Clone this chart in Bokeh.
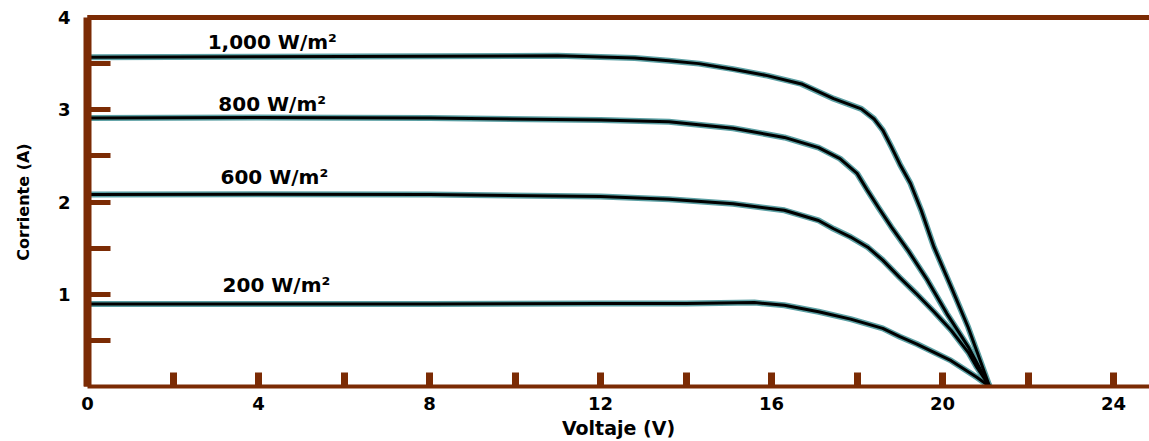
from bokeh.plotting import figure
from bokeh.models import FixedTicker, LinearAxis
from bokeh.core.properties import value
from bokeh.embed import file_html
from bokeh.resources import INLINE

# ---- data ----
v_1000 = [0, 4, 8, 11, 12.8, 13.6, 14.3, 15.1, 15.9, 16.7, 17.45, 18.1, 18.4, 18.6, 18.8, 19.0, 19.25, 19.5, 19.8, 20.2, 20.6, 21.1]
i_1000 = [3.57, 3.575, 3.58, 3.585, 3.56, 3.53, 3.50, 3.44, 3.37, 3.28, 3.12, 3.01, 2.90, 2.78, 2.60, 2.41, 2.20, 1.91, 1.51, 1.08, 0.64, 0.0]

v_800 = [0, 4, 8, 12.0, 13.6, 15.1, 16.3, 17.1, 17.6, 18.0, 18.25, 18.5, 18.8, 19.2, 19.65, 20.1, 20.6, 21.1]
i_800 = [2.91, 2.915, 2.91, 2.89, 2.87, 2.80, 2.70, 2.59, 2.47, 2.31, 2.12, 1.94, 1.73, 1.47, 1.15, 0.79, 0.43, 0.0]

v_600 = [0, 4, 8, 12.0, 13.6, 15.1, 16.3, 17.1, 17.45, 17.85, 18.25, 18.6, 19.0, 19.4, 19.8, 20.2, 20.6, 20.8, 21.1]
i_600 = [2.08, 2.085, 2.08, 2.06, 2.03, 1.98, 1.91, 1.80, 1.71, 1.62, 1.51, 1.37, 1.18, 1.00, 0.81, 0.61, 0.37, 0.21, 0.0]

v_200 = [0, 8, 12.0, 14, 15.6, 16.3, 17.1, 17.85, 18.6, 19.0, 19.4, 20.2, 20.8, 21.1]
i_200 = [0.895, 0.895, 0.90, 0.90, 0.91, 0.88, 0.81, 0.73, 0.63, 0.54, 0.46, 0.28, 0.10, 0.0]

curve_labels = ["1,000 W/m²", "800 W/m²", "600 W/m²", "200 W/m²"]
label_x = [2.81, 3.06, 3.11, 3.16]
label_y = [3.73, 3.06, 2.27, 1.095]

x_major = [0, 4, 8, 12, 16, 20, 24]
x_minor = [2, 6, 10, 14, 18, 22]
y_major = [1, 2, 3, 4]
y_minor = [0.5, 1.5, 2.5, 3.5]

x_title = "Voltaje (V)"
y_title = "Corriente (A)"

BROWN = "#7b2b04"
TEAL = "#5b9fa3"
FONT = "DejaVu Sans"

p = figure(width=1149, height=441, x_range=(0, 24.84), y_range=(0, 4),
           output_backend="svg", toolbar_location=None,
           min_border_left=87, min_border_right=0, min_border_top=17, min_border_bottom=55)
p.background_fill_color = "white"
p.border_fill_color = "white"
p.outline_line_color = None
p.xgrid.visible = False
p.ygrid.visible = False

curves = [(v_1000, i_1000), (v_800, i_800), (v_600, i_600), (v_200, i_200)]
for vx, iy in curves:
    p.line(vx, iy, line_color=TEAL, line_width=6, line_join="round")
for vx, iy in curves:
    p.line(vx, iy, line_color="black", line_width=3, line_join="round")

p.text(x=label_x, y=label_y, text=curve_labels, text_font=value(FONT),
       text_font_style="bold", text_font_size="20px", text_color="black",
       text_align="left", text_baseline="middle")

# bottom axis
xa = p.xaxis[0]
xa.ticker = FixedTicker(ticks=x_major, minor_ticks=x_minor)
xa.axis_line_color = BROWN
xa.axis_line_width = 4
xa.major_tick_line_color = BROWN
xa.minor_tick_line_color = BROWN
xa.major_tick_line_width = 7
xa.minor_tick_line_width = 7
xa.major_tick_in = 14
xa.major_tick_out = 0
xa.minor_tick_in = 14
xa.minor_tick_out = 0
xa.major_label_standoff = 10
xa.major_label_text_font = FONT
xa.major_label_text_font_style = "bold"
xa.major_label_text_font_size = "18px"
xa.major_label_text_color = "black"
xa.axis_label = x_title
xa.axis_label_text_font = FONT
xa.axis_label_text_font_style = "bold"
xa.axis_label_text_font_size = "19px"
xa.axis_label_text_color = "black"
xa.axis_label_standoff = 4

# left axis
ya = p.yaxis[0]
ya.ticker = FixedTicker(ticks=y_major, minor_ticks=y_minor)
ya.axis_line_color = BROWN
ya.axis_line_width = 8
ya.major_tick_line_color = BROWN
ya.minor_tick_line_color = BROWN
ya.major_tick_line_width = 5
ya.minor_tick_line_width = 5
ya.major_tick_in = 23
ya.major_tick_out = 0
ya.minor_tick_in = 23
ya.minor_tick_out = 0
ya.major_label_standoff = 17
ya.major_label_text_font = FONT
ya.major_label_text_font_style = "bold"
ya.major_label_text_font_size = "18px"
ya.major_label_text_color = "black"
ya.axis_label = y_title
ya.axis_label_text_font = FONT
ya.axis_label_text_font_style = "bold"
ya.axis_label_text_font_size = "16px"
ya.axis_label_text_color = "black"
ya.axis_label_standoff = 22

# top border line
top = LinearAxis(ticker=FixedTicker(ticks=[]), axis_line_color=BROWN, axis_line_width=5,
                 major_tick_line_color=None, minor_tick_line_color=None,
                 major_label_text_font_size="0px")
p.add_layout(top, "above")

open("out.html", "w").write(file_html(p, INLINE))
